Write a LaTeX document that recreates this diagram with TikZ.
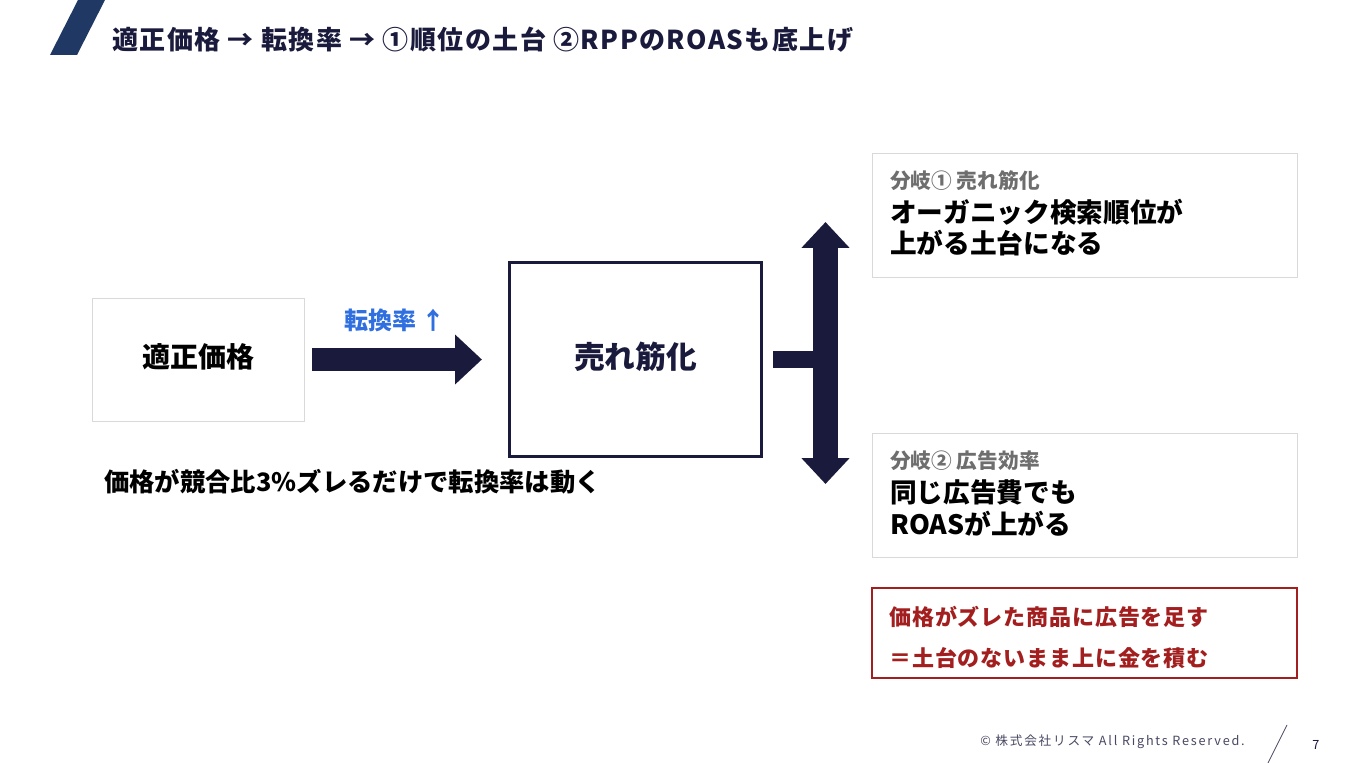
\documentclass[tikz,border=0pt]{standalone}
\usepackage{fontspec}
\setmainfont{Noto Sans CJK JP}
\usepackage{xcolor}
\usetikzlibrary{positioning,arrows.meta}
\definecolor{navy}{HTML}{1A1A3C}
\definecolor{bandblue}{HTML}{1F3864}
\definecolor{upblue}{HTML}{2F6FE0}
\definecolor{warnred}{HTML}{A31F1F}
\definecolor{tagtext}{HTML}{6E6E6E}
\definecolor{edgegray}{HTML}{D9D9D9}

\begin{document}
\begin{tikzpicture}[
    x=0.75pt, y=-0.75pt,
    softbox/.style={rectangle, draw=edgegray, line width=0.6pt, inner sep=0pt},
    hubbox/.style={rectangle, draw=navy, line width=2.4pt, inner sep=0pt},
    warnbox/.style={rectangle, draw=warnred, line width=0.9pt, inner sep=0pt},
    bold/.style={font=\bfseries\fontsize{#1}{#1}\selectfont, inner sep=0pt},
    tag/.style={font=\bfseries\fontsize{15.5}{15.5}\selectfont, text=tagtext, inner sep=0pt, anchor=west},
    body/.style={font=\bfseries\fontsize{20}{20}\selectfont, text=black, inner sep=0pt, anchor=west},
    blockarrow/.style={draw=navy, line width=17pt, -{Triangle[width=36pt,length=20pt]}},
    blockbar/.style={draw=navy, line width=12.75pt},
    twoway/.style={draw=navy, line width=18.75pt, {Triangle[width=35pt,length=19.5pt]}-{Triangle[width=35pt,length=19.5pt]}}
]
    \useasboundingbox[fill=white] (0,0) rectangle (1357,763);

    \fill[bandblue] (50,55) -- (77,55) -- (105,0) -- (78,0) -- cycle;
    \node[bold=19.5, text=navy, anchor=west] (title) at (112,40) {\addfontfeatures{LetterSpace=5.5}適正価格\ →\ 転換率\ →\ ①順位の土台\ ②RPPのROASも底上げ};

    \node[softbox, minimum width=159pt, minimum height=92.25pt] (price) at (198,359.5) {};
    \node[bold=21, text=black] (pricetext) at (198,357) {適正価格};
    \node[hubbox, minimum width=189pt, minimum height=146pt] (hub) at (635.5,359.5) {};
    \node[bold=23, text=navy] (hubtext) at (635.5,357) {売れ筋化};
    \node[bold=18, text=upblue] (cvr) at (395,320) {転換率 ↑};
    \node[bold=19, text=black, anchor=west] (note) at (104,482) {価格が競合比3\%ズレるだけで転換率は動く};

    \draw[blockarrow, shorten <=6pt, shorten >=19.5pt] (price.east |- hub.west) -- (hub.west);

    \coordinate (split) at (838,359.5);
    \coordinate (uptip) at (825.5,222);
    \coordinate (downtip) at (825.5,484);
    \draw[blockbar, shorten <=7.5pt] (hub.east) -- (split);
    \draw[twoway] (downtip) -- (uptip);

    \node[softbox, minimum width=318.75pt, minimum height=93pt] (rank) at (1084.5,215) {};
    \node[tag] (ranktag) at (890,181) {分岐① 売れ筋化};
    \node[body] (rankline1) at (890,212) {オーガニック検索順位が};
    \node[body] (rankline2) at (890,243) {上がる土台になる};

    \node[softbox, minimum width=318.75pt, minimum height=93pt] (roas) at (1084.5,495) {};
    \node[tag] (roastag) at (890,461) {分岐② 広告効率};
    \node[body] (roasline1) at (890,492) {同じ広告費でも};
    \node[body] (roasline2) at (890,524) {ROASが上がる};

    \node[warnbox, minimum width=318.75pt, minimum height=67.5pt] (warn) at (1084.5,633) {};
    \node[bold=16.5, text=warnred, anchor=west] (warn1) at (889,617) {\addfontfeatures{LetterSpace=4}価格がズレた商品に広告を足す};
    \node[bold=16.5, text=warnred, anchor=west] (warn2) at (889,658) {\addfontfeatures{LetterSpace=4}＝土台のないまま上に金を積む};

    \node[font=\fontsize{9.5}{9.5}\selectfont, text=navy!80, inner sep=0pt, anchor=west] (footer) at (980,742) {\addfontfeatures{LetterSpace=14}© 株式会社リスマ All Rights Reserved.};
    \draw[navy!80, line width=0.6pt] (1268,763) -- (1287,725);
    \node[font=\fontsize{9.5}{9.5}\selectfont, text=navy, inner sep=0pt] (page) at (1316,745) {7};
\end{tikzpicture}
\end{document}
